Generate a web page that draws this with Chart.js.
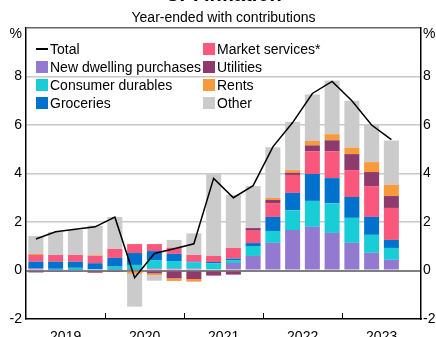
<!DOCTYPE html>
<html>
<head>
<meta charset="utf-8">
<script src="https://cdn.jsdelivr.net/npm/chart.js@4"></script>
<style>
  body { margin: 0; overflow: hidden; background: #fff; }
  #wrap { position: relative; width: 436px; height: 337px; overflow: hidden; font-family: 'Liberation Sans', Arial, sans-serif; color: #000; }
  canvas { position: absolute; left: 0; top: 0; }
  .title { position: absolute; left: 26px; width: 395px; text-align: center; white-space: nowrap; }
  #title { top: -16px; font-size: 20px; line-height: 20px; font-weight: bold; }
  #subtitle { top: 9px; font-size: 14px; line-height: 16px; }
  .unit { position: absolute; top: 25px; font-size: 14px; line-height: 16px; }
  #unitL { left: 0; width: 22px; text-align: right; }
  #unitR { left: 423px; }
  .lg-box { position: absolute; width: 12px; height: 12px; }
  .lg-line { position: absolute; width: 12px; height: 2px; background: #000; }
  .lg-text { position: absolute; font-size: 14px; line-height: 18px; white-space: nowrap; }
</style>
</head>
<body>
<div id="wrap">
  <canvas id="myChart" width="436" height="337"></canvas>
  <div class="title" id="title">CPI Inflation</div>
  <div class="title" id="subtitle">Year-ended with contributions</div>
  <div class="unit" id="unitL">%</div>
  <div class="unit" id="unitR">%</div>
  <div id="legend"></div>
</div>
<script>
// quarters, Mar 2019 to Dec 2023 (last slot empty)
const quarters = ['Mar-19','Jun-19','Sep-19','Dec-19','Mar-20','Jun-20','Sep-20','Dec-20',
  'Mar-21','Jun-21','Sep-21','Dec-21','Mar-22','Jun-22','Sep-22','Dec-22',
  'Mar-23','Jun-23','Sep-23','Dec-23'];
const years = ['2019', '2020', '2021', '2022', '2023'];
const yTicks = [-2, 0, 2, 4, 6, 8, 10];

// year-ended CPI, %
const total = [1.3, 1.6, 1.7, 1.8, 2.2, -0.3, 0.7, 0.9, 1.1, 3.8, 3.0, 3.5, 5.1, 6.1, 7.3, 7.8, 7.0, 6.0, 5.4];

// contributions, ppt
const newDwelling = [0.08, 0.01, 0.01, 0.00, 0.02, 0.02, 0.09, 0.09, 0.08, 0.05, 0.31, 0.60, 1.14, 1.67, 1.80, 1.55, 1.14, 0.73, 0.44];
const consumerDurables = [-0.04, 0.06, 0.10, 0.05, 0.14, 0.21, 0.34, 0.30, 0.25, 0.25, 0.12, 0.41, 0.49, 0.81, 1.07, 1.22, 1.03, 0.74, 0.49];
const groceries = [0.28, 0.29, 0.25, 0.25, 0.36, 0.49, 0.37, 0.30, 0.03, 0.05, 0.06, 0.12, 0.58, 0.72, 1.11, 1.04, 0.86, 0.74, 0.33];
const marketServices = [0.28, 0.28, 0.28, 0.30, 0.37, 0.37, 0.29, 0.25, 0.28, 0.25, 0.44, 0.51, 0.57, 0.74, 0.94, 1.11, 1.11, 1.27, 1.32];
const utilities = [-0.04, -0.03, -0.03, -0.09, -0.06, -0.03, -0.12, -0.32, -0.35, -0.21, -0.17, 0.11, 0.13, 0.09, 0.24, 0.45, 0.66, 0.58, 0.49];
const rents = [0.04, 0, 0, 0.03, 0, -0.11, -0.07, -0.11, -0.11, 0, 0, 0, 0.08, 0.11, 0.18, 0.25, 0.27, 0.41, 0.46];
const other = [0.74, 0.95, 1.03, 1.22, 1.32, -1.35, -0.23, 0.32, 0.89, 3.37, 2.19, 1.73, 2.09, 1.99, 1.92, 2.21, 1.93, 1.55, 1.83];

const series = [
  { label: 'New dwelling purchases', data: newDwelling, color: '#937ad0' },
  { label: 'Consumer durables', data: consumerDurables, color: '#19cdd7' },
  { label: 'Groceries', data: groceries, color: '#0072ce' },
  { label: 'Market services*', data: marketServices, color: '#f9587c' },
  { label: 'Utilities', data: utilities, color: '#8e3a6c' },
  { label: 'Rents', data: rents, color: '#f89a3c' },
  { label: 'Other', data: other, color: '#cbcbcb' }
];

// html legend, two columns
const legend = document.getElementById('legend');
const legendItems = [{ label: 'Total', line: true }].concat(series);
legendItems.forEach((item, i) => {
  const col = Math.floor(i / 4), row = i % 4;
  const left = col === 0 ? 36 : 203;
  const mid = 49 + row * 18;
  const mark = document.createElement('div');
  if (item.line) {
    mark.className = 'lg-line';
    mark.style.top = (mid - 1) + 'px';
  } else {
    mark.className = 'lg-box';
    mark.style.top = (mid - 6) + 'px';
    mark.style.background = item.color;
  }
  mark.style.left = left + 'px';
  legend.appendChild(mark);
  const txt = document.createElement('div');
  txt.className = 'lg-text';
  txt.style.left = (left + 14) + 'px';
  txt.style.top = (mid - 9) + 'px';
  txt.textContent = item.label;
  legend.appendChild(txt);
});

// little inward tick marks between years
const yearTicks = {
  id: 'yearTicks',
  afterDatasetsDraw(chart) {
    const x = chart.scales.x, area = chart.chartArea, ctx = chart.ctx;
    ctx.save();
    ctx.strokeStyle = '#000';
    ctx.lineWidth = 1;
    for (let i = 4; i < quarters.length; i += 4) {
      const px = Math.round((x.getPixelForValue(i - 1) + x.getPixelForValue(i)) / 2) + 0.5;
      ctx.beginPath();
      ctx.moveTo(px, area.bottom);
      ctx.lineTo(px, area.bottom - 6);
      ctx.stroke();
    }
    ctx.restore();
  }
};

Chart.defaults.font.family = "'Liberation Sans', Arial, sans-serif";
Chart.defaults.font.size = 14;
Chart.defaults.color = '#000';

const datasets = [{
  type: 'line',
  label: 'Total',
  data: total,
  borderColor: '#000',
  borderWidth: 1.5,
  pointRadius: 0,
  tension: 0,
  stack: 'total',
  order: 0
}].concat(series.map(s => ({
  type: 'bar',
  label: s.label,
  data: s.data,
  backgroundColor: s.color,
  borderWidth: 0,
  categoryPercentage: 1,
  barPercentage: 0.76,
  stack: 'contrib',
  order: 1
})));

// the % unit at the top is html text, so the 10 tick has no label
const tickOpts = {
  autoSkip: false,
  callback: v => v === 10 ? '' : v
};

new Chart(document.getElementById('myChart'), {
  data: { labels: quarters, datasets: datasets },
  options: {
    responsive: false,
    animation: false,
    devicePixelRatio: 1,
    layout: { padding: { top: 28, left: 0, right: 0, bottom: 0 } },
    plugins: { legend: { display: false }, tooltip: { enabled: false } },
    scales: {
      x: {
        stacked: true,
        offset: true,
        grid: { display: false, drawTicks: false },
        border: { display: true, color: '#000', width: 1.5 },
        ticks: {
          autoSkip: false,
          maxRotation: 0,
          padding: 10,
          labelOffset: 10,
          callback: (v, i) => i % 4 === 1 ? years[(i - 1) / 4] : ''
        },
        afterFit: s => { s.height = 18; }
      },
      y: {
        stacked: true,
        min: -2,
        max: 10,
        afterBuildTicks: s => { s.ticks = yTicks.map(v => ({ value: v })); },
        grid: {
          drawTicks: false,
          color: c => {
            const v = c.tick.value;
            if (v === 0) return '#7f7f7f';
            if (v === -2) return 'rgba(0,0,0,0)';
            if (v === 10) return '#666';
            return '#c8c8c8';
          },
          lineWidth: c => c.tick.value === 0 ? 2 : 1.5
        },
        border: { display: true, color: '#000', width: 1.5 },
        ticks: Object.assign({ padding: 4 }, tickOpts),
        afterFit: s => { s.width = 26; }
      },
      y2: {
        position: 'right',
        min: -2,
        max: 10,
        afterBuildTicks: s => { s.ticks = yTicks.map(v => ({ value: v })); },
        grid: { display: false, drawTicks: false },
        border: { display: true, color: '#000', width: 1.5 },
        ticks: Object.assign({ padding: 2 }, tickOpts),
        afterFit: s => { s.width = 15; }
      }
    }
  },
  plugins: [yearTicks]
});
</script>
</body>
</html>
